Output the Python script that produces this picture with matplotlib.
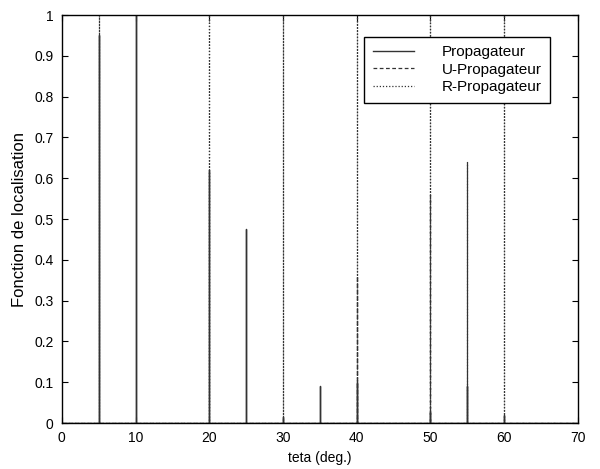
import numpy as np
import matplotlib
matplotlib.use("Agg")
import matplotlib.pyplot as plt

plt.rcParams['font.family'] = ['Liberation Sans', 'DejaVu Sans']

# Spike positions (deg) and heights for each series
p_pos = [5, 10, 20, 25, 30, 35, 40, 50, 55, 60]
p_val = [0.95, 1.0, 0.62, 0.475, 0.015, 0.09, 0.10, 0.03, 0.09, 0.02]

u_pos = [40, 50, 55]
u_val = [0.36, 0.56, 0.64]

r_pos = [5, 20, 30, 40, 50, 60]
r_val = [1.0, 1.0, 1.0, 1.0, 1.0, 1.0]

labels = ["Propagateur", "U-Propagateur", "R-Propagateur"]
xticks = [0, 10, 20, 30, 40, 50, 60, 70]
yticks = [0, 0.1, 0.2, 0.3, 0.4, 0.5, 0.6, 0.7, 0.8, 0.9, 1]
ytick_labels = ['0', '0.1', '0.2', '0.3', '0.4', '0.5', '0.6', '0.7', '0.8', '0.9', '1']


def spikes(pos, val, xmin=0, xmax=70):
    xs = [xmin]
    ys = [0.0]
    for p, v in zip(pos, val):
        xs += [p, p, p]
        ys += [0.0, v, 0.0]
    xs.append(xmax)
    ys.append(0.0)
    return np.array(xs), np.array(ys)


fig = plt.figure(figsize=(6.0, 4.69), dpi=100)
ax = fig.add_axes([0.103, 0.098, 0.86, 0.870])

x, y = spikes(p_pos, p_val)
ax.plot(x, y, color='#333333', lw=1.0, ls='-', label=labels[0])
x, y = spikes(u_pos, u_val)
ax.plot(x, y, color='#333333', lw=0.9, ls=(0, (3, 2)), label=labels[1])
x, y = spikes(r_pos, r_val)
ax.plot(x, y, color='#333333', lw=0.9, ls=(0, (1, 1.5)), label=labels[2])

ax.set_xlim(0, 70)
ax.set_ylim(0, 1)
ax.set_xticks(xticks)
ax.set_xticklabels([str(t) for t in xticks])
ax.set_yticks(yticks)
ax.set_yticklabels(ytick_labels)
ax.tick_params(direction='in', top=True, right=True, labelsize=10, length=4, width=0.8)
ax.tick_params(axis='x', pad=6)
ax.tick_params(axis='y', pad=6)
for s in ax.spines.values():
    s.set_linewidth(1.0)
    s.set_color('black')

ax.set_xlabel('teta (deg.)', fontsize=10, labelpad=4)
ax.set_ylabel('Fonction de localisation', fontsize=12, labelpad=5)

leg = ax.legend(loc='upper right', bbox_to_anchor=(0.946, 0.946), borderaxespad=0,
                fontsize=11, handlelength=2.7, handletextpad=1.8, labelspacing=0.22,
                fancybox=False, framealpha=1, edgecolor='black', borderpad=0.55)
leg.get_frame().set_linewidth(1.0)

fig.savefig('out.png', dpi=100)
